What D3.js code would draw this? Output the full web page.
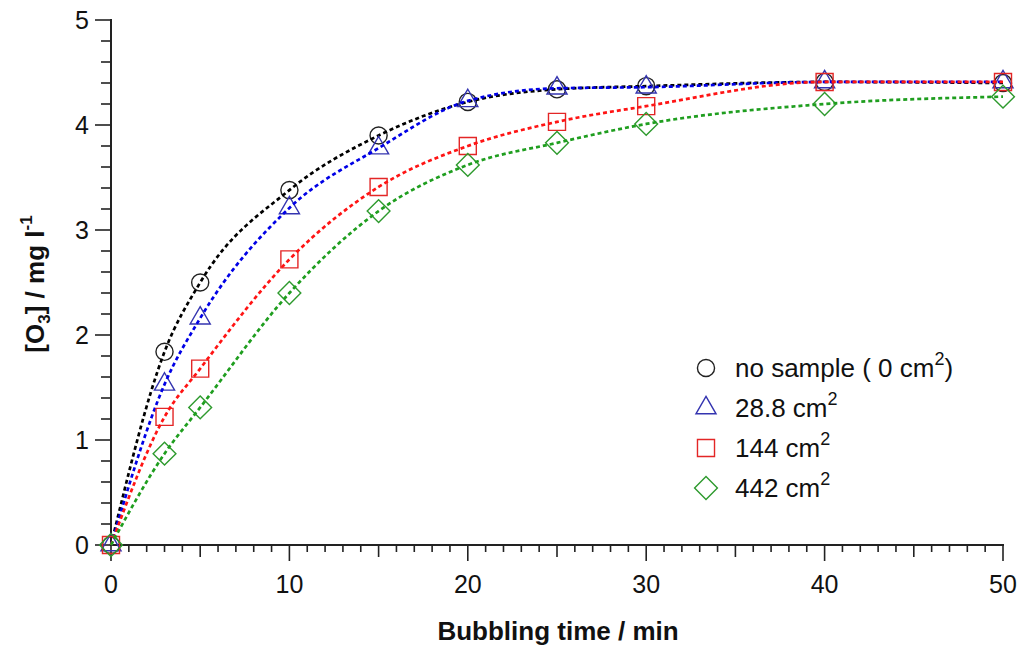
<!DOCTYPE html>
<html>
<head>
<meta charset="utf-8" />
<title>Ozone vs bubbling time</title>
<style>
  body { margin: 0; background: #fff; }
  text { font-family: "Liberation Sans", Arial, sans-serif; }
</style>
</head>
<body>
<script src="https://cdn.jsdelivr.net/npm/d3@7/dist/d3.min.js"></script>
<script>
var width = 1023,
    height = 653;

// bubbling time, min
var times = [0, 3, 5, 10, 15, 20, 25, 30, 40, 50];

// [O3] / mg l-1 for each sample area
var noSample = [0, 1.84, 2.50, 3.38, 3.90, 4.22, 4.34, 4.37, 4.41, 4.40];
var area288  = [0, 1.53, 2.16, 3.21, 3.78, 4.23, 4.35, 4.36, 4.41, 4.41];
var area144  = [0, 1.22, 1.68, 2.72, 3.41, 3.80, 4.03, 4.18, 4.41, 4.41];
var area442  = [0, 0.87, 1.31, 2.40, 3.18, 3.62, 3.83, 4.01, 4.20, 4.27];

var xTicks = [0, 10, 20, 30, 40, 50];
var yTicks = [0, 1, 2, 3, 4, 5];

var series = [
    {label: 'no sample ( 0 cm', values: noSample, shape: 'circle',   stroke: '#222222', line: '#000000'},
    {label: '28.8 cm',          values: area288,  shape: 'triangle', stroke: '#3434b0', line: '#0000e6'},
    {label: '144 cm',           values: area144,  shape: 'square',   stroke: '#e32626', line: '#ff1414'},
    {label: '442 cm',           values: area442,  shape: 'diamond',  stroke: '#2e9a2e', line: '#1f9e1f'}
];

var x = d3.scaleLinear().domain([0, 50]).range([111, 1003]);
var y = d3.scaleLinear().domain([0, 5]).range([545, 20]);

var svg = d3.select('body').append('svg')
    .attr('width', width)
    .attr('height', height);

// x axis: minor every 1, medium every 5, major every 10
var xAxisG = svg.append('g').attr('transform', 'translate(0,' + y(0) + ')');
xAxisG.append('line')
    .attr('x1', x(0) - 1).attr('x2', x(50) + 1)
    .attr('stroke', '#222').attr('stroke-width', 2);
xAxisG.selectAll('.xt')
    .data(d3.range(0, 51))
  .enter().append('line')
    .attr('x1', function(d) { return x(d); })
    .attr('x2', function(d) { return x(d); })
    .attr('y1', 0)
    .attr('y2', function(d) { return d % 10 === 0 ? 16 : (d % 5 === 0 ? 12 : 7); })
    .attr('stroke', '#222').attr('stroke-width', 1.6);
xAxisG.selectAll('.xl')
    .data(xTicks)
  .enter().append('text')
    .attr('x', function(d) { return x(d); })
    .attr('y', 48)
    .attr('text-anchor', 'middle')
    .attr('font-size', 25)
    .attr('fill', '#111')
    .text(function(d) { return d; });

// y axis: minor every 0.2
var yAxisG = svg.append('g').attr('transform', 'translate(' + x(0) + ',0)');
yAxisG.append('line')
    .attr('y1', y(5) - 1).attr('y2', y(0) + 1)
    .attr('stroke', '#222').attr('stroke-width', 2);
yAxisG.selectAll('.yt')
    .data(d3.range(0, 26))
  .enter().append('line')
    .attr('y1', function(d) { return y(d / 5); })
    .attr('y2', function(d) { return y(d / 5); })
    .attr('x1', 0)
    .attr('x2', function(d) { return d % 5 === 0 ? -16 : -10; })
    .attr('stroke', '#222').attr('stroke-width', 1.6);
yAxisG.selectAll('.yl')
    .data(yTicks)
  .enter().append('text')
    .attr('x', -22)
    .attr('y', function(d) { return y(d); })
    .attr('dy', '0.36em')
    .attr('text-anchor', 'end')
    .attr('font-size', 25)
    .attr('fill', '#111')
    .text(function(d) { return d; });

// axis titles
svg.append('text')
    .attr('x', 558).attr('y', 640)
    .attr('text-anchor', 'middle')
    .attr('font-size', 26).attr('font-weight', 'bold')
    .attr('fill', '#111')
    .text('Bubbling time / min');

var yTitle = svg.append('text')
    .attr('transform', 'translate(44,284) rotate(-90)')
    .attr('text-anchor', 'middle')
    .attr('font-size', 26).attr('font-weight', 'bold')
    .attr('fill', '#111');
yTitle.append('tspan').text('[O');
yTitle.append('tspan').attr('font-size', 17).attr('dy', 6).text('3');
yTitle.append('tspan').attr('dy', -6).text('] / mg l');
yTitle.append('tspan').attr('font-size', 17).attr('dy', -12).text('-1');

// symbols
function symbolPath(shape) {
    if (shape === 'circle') return d3.symbol().type(d3.symbolCircle).size(230)();
    if (shape === 'triangle') return d3.symbol().type(d3.symbolTriangle).size(175)();
    if (shape === 'square') return d3.symbol().type(d3.symbolSquare).size(290)();
    return d3.symbol().type(d3.symbolSquare).size(260)();
}
function symbolRotate(shape) { return shape === 'diamond' ? ' rotate(45)' : ''; }

var line = d3.line()
    .x(function(d) { return x(d[0]); })
    .y(function(d) { return y(d[1]); })
    .curve(d3.curveMonotoneX);

series.forEach(function(s) {
    var pts = times.map(function(t, i) { return [t, s.values[i]]; });

    svg.append('g').selectAll('path')
        .data(pts)
      .enter().append('path')
        .attr('d', symbolPath(s.shape))
        .attr('transform', function(d) { return 'translate(' + x(d[0]) + ',' + y(d[1]) + ')' + symbolRotate(s.shape); })
        .attr('fill', 'none')
        .attr('stroke', s.stroke)
        .attr('stroke-width', 1.4);

    svg.append('path')
        .datum(pts)
        .attr('d', line)
        .attr('fill', 'none')
        .attr('stroke', s.line)
        .attr('stroke-width', 2.7)
        .attr('stroke-dasharray', '4,3');
});

// legend
var legend = svg.append('g').attr('transform', 'translate(706,368)');
series.forEach(function(s, i) {
    var g = legend.append('g').attr('transform', 'translate(0,' + (i * 40) + ')');
    g.append('path')
        .attr('d', symbolPath(s.shape))
        .attr('transform', 'translate(0,0)' + symbolRotate(s.shape))
        .attr('fill', 'none')
        .attr('stroke', s.stroke)
        .attr('stroke-width', 1.4);
    var t = g.append('text')
        .attr('x', 29).attr('y', 0).attr('dy', '0.36em')
        .attr('font-size', 26)
        .attr('fill', '#111');
    t.append('tspan').text(s.label);
    t.append('tspan').attr('font-size', 18).attr('dy', -12).text('2');
    if (i === 0) t.append('tspan').attr('dy', 12).text(')');
});
</script>
</body>
</html>
